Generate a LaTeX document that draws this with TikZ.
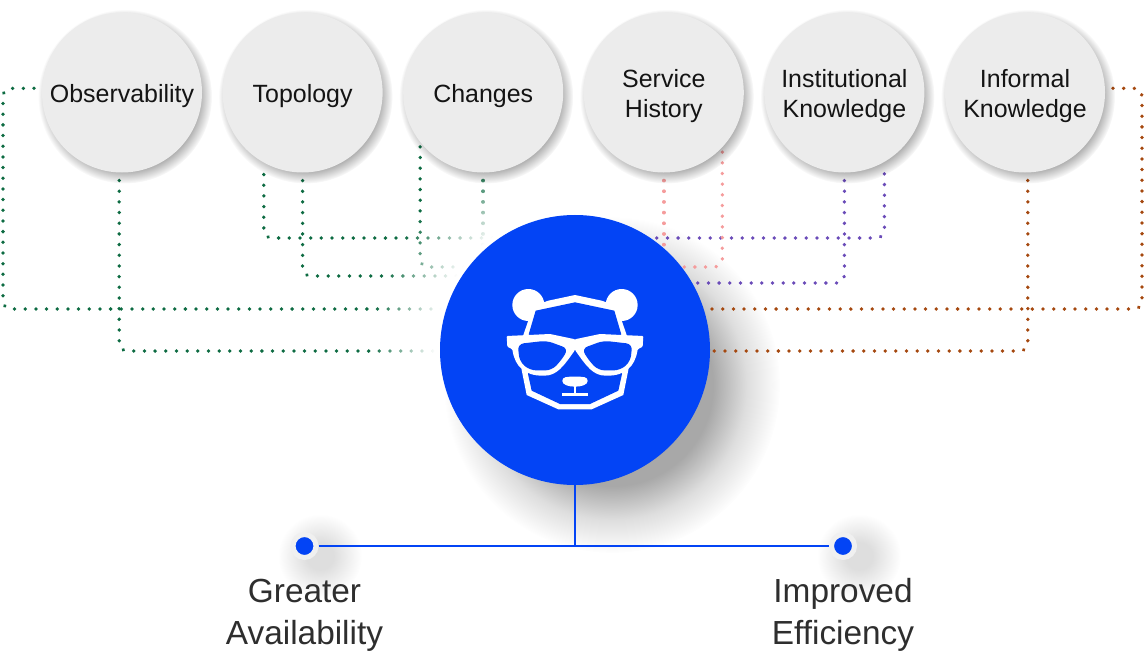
\documentclass[tikz,border=0pt]{standalone}
\usepackage{fontspec}
\setmainfont{Liberation Sans}
\usetikzlibrary{fadings}
\pgfdeclarelayer{back}
\pgfsetlayers{back,main}
\definecolor{hubblue}{HTML}{0344F5}
\definecolor{topicgray}{HTML}{ECECEC}
\definecolor{linkgreen}{HTML}{0D6B42}
\definecolor{linkpink}{HTML}{F59C9C}
\definecolor{linkpurple}{HTML}{6A4BB8}
\definecolor{linkbrown}{HTML}{A5480F}
\newcommand\topicstrut{\rule{0pt}{14pt}}
\pgfdeclareradialshading{hubshade}{\pgfpointorigin}{color(0bp)=(white!36!black); color(15bp)=(white!34!black); color(20bp)=(white!13!black); color(25bp)=(black); color(50bp)=(black)}
\pgfdeclarefading{hubfade}{\pgfuseshading{hubshade}}
\pgfdeclareradialshading{topicshade}{\pgfpointorigin}{color(0bp)=(white!34!black); color(21bp)=(white!34!black); color(25bp)=(black); color(50bp)=(black)}
\pgfdeclarefading{topicfade}{\pgfuseshading{topicshade}}
\pgfdeclareradialshading{dotshade}{\pgfpointorigin}{color(0bp)=(white!13!black); color(8bp)=(white!13!black); color(25bp)=(black); color(50bp)=(black)}
\pgfdeclarefading{dotfade}{\pgfuseshading{dotshade}}
\pgfdeclareradialshading{washshade}{\pgfpointorigin}{color(0bp)=(white); color(17bp)=(white); color(25bp)=(black); color(50bp)=(black)}
\pgfdeclarefading{washfade}{\pgfuseshading{washshade}}
\begin{document}
\begin{tikzpicture}[x=0.2mm,y=-0.2mm,node distance=3.612cm,
    topic/.style={circle,fill=topicgray,minimum size=3.2cm,inner sep=0pt,outer sep=0pt,align=center,text=black!92,font=\fontsize{14.2}{17.1}\selectfont},
    hubnode/.style={circle,fill=hubblue,minimum size=5.4cm,inner sep=0pt,outer sep=0pt},
    endpoint/.style={circle,fill=hubblue,draw=black!6,line width=0.1cm,minimum size=0.46cm,inner sep=0pt,outer sep=0.05cm},
    outcome/.style={align=center,inner sep=0pt,text=black!82,font=\fontsize{19}{23.9}\selectfont},
    link/.style={line width=0.072cm,line cap=round,dash pattern=on 0.1pt off 0.21cm,rounded corners=0.16cm,shorten <=0.16cm},
    blueline/.style={hubblue,line width=0.03cm}]
    \useasboundingbox (0,0) rectangle (1144,656);

    \node [topic](obs) at (122,92.5){\topicstrut Observability};
    \node [topic](topo) [right of = obs]{\topicstrut Topology};
    \node [topic](chg) [right of = topo]{\topicstrut Changes};
    \node [topic](svc) [right of = chg]{\topicstrut Service\\History};
    \node [topic](inst) [right of = svc]{\topicstrut Institutional\\Knowledge};
    \node [topic](info) [right of = inst]{\topicstrut Informal\\Knowledge};

    \node [hubnode](hub) at (575,350){};
    \node [endpoint](avail) at (304.5,546){};
    \node [endpoint](effic) at (843,546){};
    \node [outcome](availtext) at (304.5,615){Greater\\Availability};
    \node [outcome](effictext) at (843,615){Improved\\Efficiency};

    \coordinate (hubA) at (575,238);
    \coordinate (hubB) at (575,276);
    \coordinate (hubC) at (575,267);
    \coordinate (hubD) at (575,309);
    \coordinate (hubE) at (575,351);
    \coordinate (hubF) at (575,283);
    \coordinate (railL) at (3,309);
    \coordinate (railR) at (1142,309);

    \draw[blueline] (hub.south) -- (hub.south |- avail);
    \draw[blueline] (avail) -- (effic);

    \begin{pgfonlayer}{back}
        \fill[black,path fading=hubfade] (612,385) circle (168);
        \fill[black,path fading=dotfade] (320,556) circle (42);
        \fill[black,path fading=dotfade] (859,556) circle (42);

        \draw[link,linkgreen] (obs.177) -| (railL) -- (hubD);
        \draw[link,linkgreen] (obs.268) |- (hubE);
        \draw[link,linkgreen,shorten <=0.24cm] (topo.241) |- (hubA);
        \draw[link,linkgreen] (topo.south) |- (hubB);
        \draw[link,linkgreen,shorten <=0.1cm] (chg.218) |- (hubC);
        \draw[link,linkgreen] (chg.south) -- (chg.south |- hubC);

        \begin{scope}
            \clip (360,120) rectangle (575,360);
            \fill[white,path fading=washfade] (hub) circle (205);
        \end{scope}

        \draw[link,linkpurple,shorten <=0.24cm] (inst.300) |- (hubA);
        \draw[link,linkpurple] (inst.south) |- (hubF);
        \draw[link,linkpink] (svc.south) -- (svc.south |- hubC);
        \draw[link,linkpink,shorten <=0.1cm] (svc.317.5) |- (hubC);
        \draw[link,linkbrown] (info.3) -| (railR) -- (hubD);
        \draw[link,linkbrown] (info.272) |- (hubE);

        \foreach \n in {obs,topo,chg,svc,inst,info}
            \fill[black,path fading=topicfade] ([shift={(3,4)}]\n) circle (87);
    \end{pgfonlayer}

    \begin{scope}[shift={(575,270)},x=0.06667mm,y=-0.06667mm]
        \foreach \side in {1,-1}{
            \begin{scope}[xscale=\side]
                \fill[white] (140,105) circle (48);
            \end{scope}
        }
        \fill[white] (0,75) -- (80,92) -- (125,108) -- (155,195) -- (160,300) -- (145,375) -- (50,418)
            -- (-50,418) -- (-145,375) -- (-160,300) -- (-155,195) -- (-125,108) -- (-80,92) -- cycle;
        \fill[hubblue] (0,97) -- (118,122) -- (138,190) -- (141,312) -- (130,362) -- (45,402)
            -- (-45,402) -- (-130,362) -- (-141,312) -- (-138,190) -- (-118,122) -- cycle;
        \foreach \side in {1,-1}{
            \begin{scope}[xscale=\side]
                \fill[white,rounded corners=0.02cm] (-1,208) -- (75,192) -- (205,198) -- (203,230) -- (188,238)
                    .. controls (180,290) and (150,317) .. (95,317)
                    .. controls (55,317) and (35,290) .. (0,240) -- cycle;
                \fill[hubblue,rounded corners=0.12cm] (20,236) -- (85,212) -- (172,222) -- (166,275) -- (135,301) -- (70,301) -- (42,272) -- cycle;
            \end{scope}
        }
        \fill[white] (-38,333) .. controls (-38,320) and (-25,320) .. (0,320)
            .. controls (25,320) and (38,320) .. (38,333)
            .. controls (38,344) and (20,350) .. (0,350)
            .. controls (-20,350) and (-38,344) .. (-38,333) -- cycle;
        \draw[white,line width=0.05cm] (0,345) -- (0,373);
        \draw[white,line width=0.07cm] (-38,373) -- (38,373);
    \end{scope}
\end{tikzpicture}
\end{document}
